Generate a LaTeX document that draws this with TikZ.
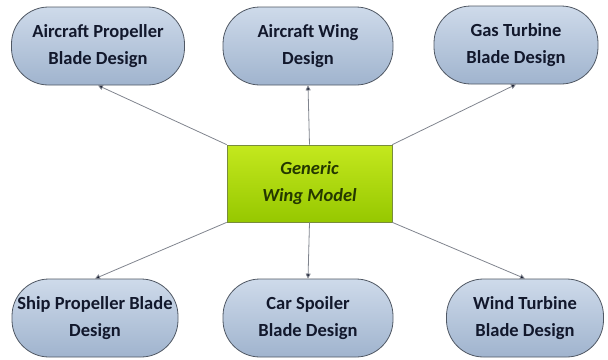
\documentclass[tikz,border=0pt]{standalone}
\usepackage{fontspec}
\setmainfont{Carlito}
\usepackage{tikz}
\usetikzlibrary{arrows.meta,positioning,shapes.misc}
\definecolor{apptop}{RGB}{206,218,234}
\definecolor{appbot}{RGB}{160,180,206}
\definecolor{appline}{RGB}{80,88,100}
\definecolor{apptext}{RGB}{18,24,44}
\definecolor{gwtop}{RGB}{196,232,30}
\definecolor{gwbot}{RGB}{150,200,0}
\definecolor{gwline}{RGB}{120,140,60}
\definecolor{gwtext}{RGB}{36,56,0}
\definecolor{link}{RGB}{128,132,142}

\begin{document}
\begin{tikzpicture}[x=1pt,y=-1pt,font=\fontsize{18.5}{27}\selectfont\bfseries,>={Triangle[length=5pt,width=5pt]}]
  \tikzset{
    app/.style={draw=appline,thick,rounded corners=37pt,top color=apptop,bottom color=appbot,text=apptext,align=center,minimum height=78pt,inner sep=1pt},
    link/.style={draw=link,thick,-{Triangle[length=5pt,width=5pt,fill=apptext]}}
  }
  \useasboundingbox (0,0) rectangle (608,359);
  \node[draw=gwline,thick,top color=gwtop,bottom color=gwbot,text=gwtext,align=center,minimum width=165pt,minimum height=77pt,font=\fontsize{18.5}{27}\selectfont\bfseries\itshape] (gwm) at (309.5,183.5) {Generic\\ Wing Model};
  \node[app,minimum width=173pt] (apb) at (98,46) {Aircraft Propeller\\ Blade Design};
  \node[app,minimum width=170pt] (awd) at (308,46) {Aircraft Wing\\ Design};
  \node[app,minimum width=164pt] (gtb) at (516,45) {Gas Turbine\\ Blade Design};
  \node[app,minimum width=166pt] (spb) at (95,318) {Ship Propeller Blade\\ Design};
  \node[app,minimum width=170pt] (csb) at (308,318) {Car Spoiler\\ Blade Design};
  \node[app,minimum width=157pt] (wtb) at (525,318) {Wind Turbine\\ Blade Design};
  \draw[link] (gwm.north west) -- (apb.south);
  \draw[link] (gwm.north) -- (awd.south);
  \draw[link] (gwm.north east) -- (gtb.south);
  \draw[link] (gwm.south west) -- (spb.north);
  \draw[link] (gwm.south) -- (csb.north);
  \draw[link] (gwm.south east) -- (wtb.north);
\end{tikzpicture}
\end{document}
